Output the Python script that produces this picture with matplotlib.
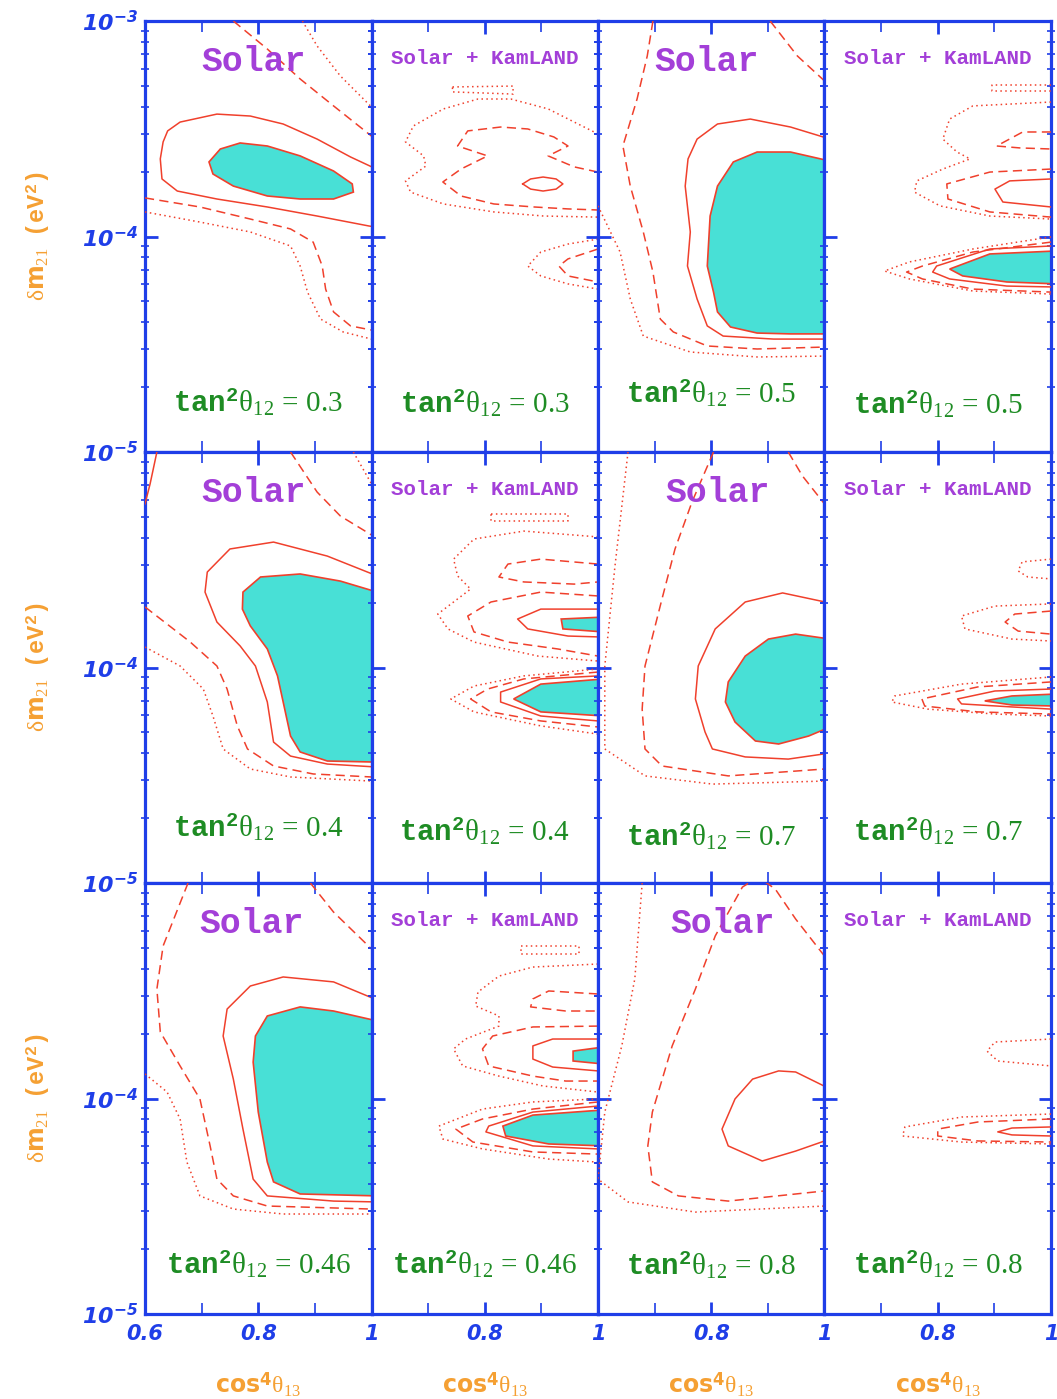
import numpy as np
import matplotlib
matplotlib.use("Agg")
import matplotlib.pyplot as plt
from matplotlib.ticker import LogLocator, NullFormatter

# fonts for the mathtext labels
plt.rcParams['mathtext.fontset'] = 'custom'
plt.rcParams['mathtext.rm'] = 'Liberation Serif'
plt.rcParams['mathtext.it'] = 'Liberation Serif:italic'
plt.rcParams['mathtext.bf'] = 'DejaVu Sans:italic:bold'
plt.rcParams['mathtext.tt'] = 'Liberation Mono:bold'
plt.rcParams['mathtext.sf'] = 'DejaVu Sans:bold'

BLUE = '#1f3ee8'
RED = '#f0402c'
TURQ = '#48e0d6'
PURPLE = '#a33fd8'
GREEN = '#1e8c24'
ORANGE = '#f5a033'

# panel text
titles = ['Solar', 'Solar + KamLAND', 'Solar', 'Solar + KamLAND']
tan2_values = [['0.3', '0.3', '0.5', '0.5'],
               ['0.4', '0.4', '0.7', '0.7'],
               ['0.46', '0.46', '0.8', '0.8']]

# contour vertices: (cos^4 theta13, log10 dm21^2 [eV^2])
solar_03 = dict(
    fill=[[(0.713, -3.654), (0.733, -3.594), (0.768, -3.566), (0.816, -3.580), (0.874, -3.626),
           (0.933, -3.696), (0.966, -3.756), (0.968, -3.794), (0.933, -3.826), (0.874, -3.826),
           (0.816, -3.812), (0.756, -3.766), (0.720, -3.710), (0.713, -3.654)]],
    solid=[[(1.016, -3.696), (0.963, -3.631), (0.904, -3.548), (0.844, -3.478), (0.786, -3.441),
            (0.727, -3.432), (0.662, -3.469), (0.640, -3.510), (0.632, -3.561), (0.627, -3.640),
            (0.630, -3.733), (0.657, -3.789), (0.727, -3.826), (0.816, -3.863), (0.904, -3.905),
            (0.995, -3.951), (1.016, -3.960)]],
    dashed=[[(0.756, -3.0), (0.816, -3.130), (0.874, -3.269), (0.933, -3.394), (1.0, -3.534)],
            [(0.6, -3.821), (0.697, -3.863), (0.786, -3.919), (0.857, -3.965), (0.897, -4.026),
             (0.913, -4.137), (0.919, -4.244), (0.933, -4.350), (0.963, -4.415), (1.0, -4.434)]],
    dotted=[[(0.878, -3.0), (0.904, -3.116), (0.945, -3.255), (1.0, -3.399)],
            [(0.6, -3.886), (0.697, -3.933), (0.786, -3.979), (0.857, -4.044), (0.874, -4.137),
             (0.887, -4.258), (0.910, -4.383), (0.950, -4.443), (1.0, -4.476)]],
)

kam_03 = dict(
    fill=[],
    solid=[[(0.867, -3.756), (0.881, -3.733), (0.903, -3.724), (0.926, -3.733), (0.938, -3.756),
            (0.926, -3.780), (0.903, -3.789), (0.881, -3.780), (0.867, -3.756)]],
    dashed=[[(1.0, -3.701), (0.958, -3.677), (0.912, -3.626), (0.947, -3.580), (0.922, -3.538),
             (0.876, -3.501), (0.828, -3.492), (0.770, -3.510), (0.752, -3.580), (0.805, -3.626),
             (0.758, -3.687), (0.726, -3.747), (0.758, -3.812), (0.816, -3.849), (0.887, -3.863),
             (0.947, -3.872), (1.0, -3.877)],
            [(1.0, -4.058), (0.947, -4.104), (0.931, -4.137), (0.947, -4.183), (1.0, -4.211)]],
    dotted=[[(0.743, -3.306), (0.850, -3.302), (0.850, -3.339), (0.743, -3.329), (0.743, -3.306)],
            [(1.0, -3.524), (0.958, -3.469), (0.912, -3.408), (0.846, -3.362), (0.788, -3.362),
             (0.727, -3.408), (0.674, -3.487), (0.660, -3.561), (0.692, -3.626), (0.696, -3.673),
             (0.660, -3.742), (0.669, -3.794), (0.727, -3.849), (0.816, -3.886), (0.904, -3.905),
             (1.0, -3.910)],
            [(1.0, -4.012), (0.947, -4.035), (0.899, -4.072), (0.876, -4.137), (0.899, -4.183),
             (0.947, -4.220), (1.0, -4.244)]],
)

solar_05 = dict(
    fill=[[(1.01, -3.650), (0.940, -3.608), (0.881, -3.608), (0.839, -3.654), (0.811, -3.766),
           (0.798, -3.905), (0.793, -4.137), (0.804, -4.258), (0.811, -4.350), (0.834, -4.420),
           (0.881, -4.448), (0.940, -4.452), (1.01, -4.452)]],
    solid=[[(1.01, -3.548), (0.940, -3.492), (0.869, -3.455), (0.811, -3.478), (0.775, -3.548),
            (0.759, -3.640), (0.754, -3.766), (0.763, -3.979), (0.758, -4.137), (0.775, -4.290),
            (0.793, -4.415), (0.821, -4.462), (0.910, -4.476), (1.01, -4.476)]],
    dashed=[[(0.697, -3.0), (0.687, -3.162), (0.669, -3.362), (0.644, -3.580), (0.657, -3.766),
             (0.680, -3.979), (0.697, -4.165), (0.710, -4.383), (0.733, -4.443), (0.793, -4.508),
             (0.881, -4.522), (1.0, -4.513)],
            [(0.904, -3.0), (0.952, -3.162), (1.0, -3.278)]],
    dotted=[[(0.6, -3.858), (0.639, -4.072), (0.657, -4.290), (0.680, -4.462), (0.763, -4.536),
             (0.881, -4.559), (1.0, -4.555)]],
)

kam_05 = dict(
    fill=[[(1.01, -4.067), (0.892, -4.081), (0.821, -4.151), (0.844, -4.183), (0.922, -4.211),
           (1.01, -4.220)]],
    solid=[[(1.0, -3.733), (0.927, -3.742), (0.901, -3.780), (0.915, -3.840), (1.0, -3.863)],
           [(1.0, -4.044), (0.892, -4.058), (0.798, -4.137), (0.791, -4.165), (0.821, -4.197),
            (0.922, -4.230), (1.0, -4.234)]],
    dashed=[[(1.0, -3.515), (0.950, -3.515), (0.904, -3.580), (0.945, -3.589), (1.0, -3.594)],
            [(1.0, -3.687), (0.892, -3.701), (0.816, -3.756), (0.818, -3.826), (0.892, -3.886),
             (1.0, -3.910)],
            [(1.0, -4.026), (0.862, -4.072), (0.773, -4.137), (0.745, -4.165), (0.773, -4.197),
             (0.862, -4.244), (1.0, -4.258)]],
    dotted=[[(1.0, -3.297), (0.896, -3.297), (0.896, -3.325), (1.0, -3.325)],
            [(1.0, -3.376), (0.862, -3.394), (0.821, -3.455), (0.809, -3.548), (0.834, -3.608),
             (0.857, -3.640), (0.809, -3.687), (0.763, -3.742), (0.759, -3.794), (0.804, -3.858),
             (0.892, -3.905), (1.0, -3.919)],
            [(1.0, -4.002), (0.862, -4.058), (0.750, -4.118), (0.706, -4.160), (0.750, -4.197),
             (0.862, -4.253), (1.0, -4.267)]],
)

solar_04 = dict(
    fill=[[(1.01, -3.650), (0.945, -3.599), (0.874, -3.566), (0.804, -3.580), (0.773, -3.650),
           (0.772, -3.729), (0.786, -3.807), (0.816, -3.914), (0.834, -4.039), (0.844, -4.160),
           (0.857, -4.318), (0.874, -4.392), (0.922, -4.434), (1.01, -4.439)]],
    solid=[[(1.01, -3.575), (0.922, -3.483), (0.827, -3.418), (0.750, -3.450), (0.710, -3.557),
            (0.706, -3.650), (0.727, -3.789), (0.768, -3.900), (0.795, -3.993), (0.816, -4.160),
            (0.827, -4.346), (0.857, -4.411), (0.922, -4.448), (1.01, -4.462)],
           [(0.6, -3.241), (0.609, -3.148), (0.621, -3.0)]],
    dashed=[[(0.6, -3.719), (0.680, -3.882), (0.727, -3.993), (0.745, -4.100), (0.763, -4.271),
             (0.781, -4.378), (0.827, -4.457), (0.897, -4.494), (1.0, -4.508)],
            [(0.857, -3.0), (0.904, -3.186), (0.945, -3.297), (1.0, -3.385)]],
    dotted=[[(0.6, -3.905), (0.662, -3.993), (0.703, -4.100), (0.720, -4.225), (0.738, -4.378),
             (0.786, -4.471), (0.857, -4.508), (1.0, -4.527)],
            [(0.968, -3.0), (1.0, -3.148)]],
)

kam_04 = dict(
    fill=[[(1.01, -3.766), (0.935, -3.775), (0.938, -3.821), (1.01, -3.835)],
          [(1.01, -4.053), (0.899, -4.077), (0.851, -4.146), (0.899, -4.206), (1.01, -4.225)]],
    solid=[[(1.0, -3.729), (0.899, -3.729), (0.858, -3.775), (0.876, -3.821), (0.947, -3.854),
            (1.0, -3.858)],
           [(1.0, -4.039), (0.899, -4.053), (0.828, -4.114), (0.828, -4.160), (0.899, -4.225),
            (1.0, -4.248)]],
    dashed=[[(1.0, -3.520), (0.899, -3.497), (0.841, -3.520), (0.825, -3.580), (0.869, -3.603),
             (0.958, -3.613), (1.0, -3.603)],
            [(1.0, -3.668), (0.899, -3.650), (0.811, -3.696), (0.770, -3.761), (0.781, -3.835),
             (0.841, -3.882), (0.929, -3.914), (1.0, -3.947)],
            [(1.0, -4.021), (0.869, -4.053), (0.805, -4.100), (0.775, -4.146), (0.811, -4.206),
             (0.899, -4.248), (1.0, -4.276)]],
    dotted=[[(0.811, -3.288), (0.947, -3.288), (0.947, -3.320), (0.811, -3.320), (0.811, -3.288)],
            [(1.0, -3.394), (0.869, -3.367), (0.781, -3.404), (0.745, -3.497), (0.752, -3.575),
             (0.775, -3.636), (0.717, -3.752), (0.735, -3.821), (0.781, -3.882), (0.894, -3.947),
             (1.0, -3.970)],
            [(1.0, -4.007), (0.869, -4.039), (0.781, -4.086), (0.740, -4.146), (0.781, -4.206),
             (0.899, -4.271), (1.0, -4.309)]],
)

solar_07 = dict(
    fill=[[(1.01, -3.868), (0.949, -3.845), (0.901, -3.868), (0.860, -3.947), (0.830, -4.067),
           (0.825, -4.160), (0.842, -4.253), (0.878, -4.341), (0.919, -4.355), (0.972, -4.318),
           (1.01, -4.276)]],
    solid=[[(1.01, -3.701), (0.926, -3.654), (0.860, -3.696), (0.807, -3.821), (0.777, -3.993),
            (0.772, -4.146), (0.789, -4.299), (0.802, -4.378), (0.860, -4.415), (0.936, -4.425),
            (1.01, -4.397)]],
    dashed=[[(0.804, -3.0), (0.766, -3.232), (0.736, -3.450), (0.713, -3.682), (0.683, -3.993),
             (0.678, -4.193), (0.683, -4.378), (0.713, -4.457), (0.830, -4.503), (1.0, -4.471)],
            [(0.936, -3.0), (0.961, -3.111), (1.0, -3.241)]],
    dotted=[[(0.653, -3.0), (0.630, -3.529), (0.612, -3.993), (0.612, -4.378), (0.683, -4.503),
             (0.802, -4.541), (1.0, -4.527)]],
)

kam_07 = dict(
    fill=[[(1.01, -4.123), (0.931, -4.132), (0.883, -4.155), (0.931, -4.174), (1.01, -4.179)]],
    solid=[[(1.0, -4.100), (0.901, -4.109), (0.835, -4.146), (0.842, -4.169), (0.931, -4.183),
            (1.0, -4.193)]],
    dashed=[[(1.0, -3.738), (0.936, -3.752), (0.919, -3.789), (0.942, -3.831), (1.0, -3.845)],
            [(1.0, -4.067), (0.871, -4.090), (0.772, -4.146), (0.777, -4.179), (0.871, -4.206),
             (1.0, -4.216)]],
    dotted=[[(1.0, -3.497), (0.949, -3.510), (0.942, -3.552), (0.959, -3.580), (1.0, -3.589)],
            [(1.0, -3.705), (0.901, -3.715), (0.842, -3.761), (0.848, -3.821), (0.931, -3.868),
             (1.0, -3.877)],
            [(1.0, -4.044), (0.842, -4.077), (0.724, -4.132), (0.719, -4.160), (0.782, -4.193),
             (0.901, -4.216), (1.0, -4.225)]],
)

solar_046 = dict(
    fill=[[(1.01, -3.640), (0.933, -3.594), (0.874, -3.575), (0.816, -3.617), (0.795, -3.710),
           (0.791, -3.831), (0.800, -4.063), (0.816, -4.295), (0.827, -4.387), (0.874, -4.443),
           (1.01, -4.452)]],
    solid=[[(1.01, -3.543), (0.933, -3.459), (0.844, -3.436), (0.786, -3.478), (0.745, -3.585),
            (0.738, -3.710), (0.756, -3.910), (0.773, -4.142), (0.791, -4.374), (0.816, -4.452),
            (0.933, -4.476), (1.01, -4.480)]],
    dashed=[[(0.676, -3.0), (0.632, -3.292), (0.621, -3.492), (0.627, -3.691), (0.662, -3.849),
             (0.697, -4.002), (0.715, -4.220), (0.727, -4.374), (0.756, -4.452), (0.816, -4.499),
             (1.0, -4.513)],
            [(0.892, -3.0), (0.933, -3.135), (1.0, -3.306)]],
    dotted=[[(0.6, -3.886), (0.639, -3.970), (0.662, -4.095), (0.674, -4.295), (0.697, -4.452),
             (0.756, -4.513), (0.844, -4.536), (1.0, -4.536)]],
)

kam_046 = dict(
    fill=[[(1.01, -3.761), (0.956, -3.780), (0.956, -3.826), (1.01, -3.840)],
          [(1.01, -4.053), (0.885, -4.077), (0.832, -4.128), (0.837, -4.174), (0.913, -4.211),
           (1.01, -4.220)]],
    solid=[[(1.0, -3.724), (0.920, -3.724), (0.885, -3.756), (0.885, -3.817), (0.920, -3.854),
            (1.0, -3.872)],
           [(1.0, -4.035), (0.885, -4.063), (0.807, -4.128), (0.802, -4.155), (0.885, -4.220),
            (1.0, -4.234)]],
    dashed=[[(1.0, -3.515), (0.913, -3.501), (0.885, -3.538), (0.881, -3.575), (0.943, -3.594),
             (1.0, -3.594)],
            [(1.0, -3.664), (0.885, -3.668), (0.814, -3.710), (0.796, -3.770), (0.807, -3.849),
             (0.885, -3.896), (0.943, -3.919), (1.0, -3.919)],
            [(1.0, -4.016), (0.885, -4.049), (0.796, -4.095), (0.749, -4.142), (0.779, -4.202),
             (0.885, -4.248), (1.0, -4.258)]],
    dotted=[[(0.864, -3.292), (0.966, -3.292), (0.966, -3.329), (0.864, -3.329), (0.864, -3.292)],
            [(1.0, -3.376), (0.885, -3.390), (0.825, -3.432), (0.788, -3.506), (0.784, -3.571),
             (0.825, -3.617), (0.825, -3.664), (0.766, -3.724), (0.745, -3.770), (0.761, -3.849),
             (0.825, -3.896), (0.903, -3.942), (1.0, -3.970)],
            [(1.0, -4.002), (0.885, -4.016), (0.796, -4.049), (0.719, -4.128), (0.726, -4.188),
             (0.796, -4.234), (0.913, -4.281), (1.0, -4.295)]],
)

solar_08 = dict(
    fill=[],
    solid=[[(1.01, -3.956), (0.949, -3.877), (0.919, -3.872), (0.873, -3.910), (0.842, -4.002),
            (0.819, -4.142), (0.830, -4.220), (0.890, -4.290), (0.949, -4.244), (1.01, -4.188)]],
    dashed=[[(1.0, -3.339), (0.949, -3.167), (0.913, -3.028), (0.883, -2.972), (0.855, -3.019),
             (0.807, -3.246), (0.772, -3.492), (0.731, -3.756), (0.696, -4.063), (0.688, -4.220),
             (0.696, -4.387), (0.742, -4.452), (0.830, -4.476), (1.0, -4.429)]],
    dotted=[[(0.678, -3.0), (0.665, -3.445), (0.642, -3.756), (0.612, -4.063), (0.600, -4.374),
             (0.653, -4.480), (0.772, -4.527), (1.0, -4.499)]],
)

kam_08 = dict(
    fill=[],
    solid=[[(1.0, -4.132), (0.931, -4.137), (0.906, -4.155), (0.931, -4.169), (1.0, -4.174)]],
    dashed=[[(1.0, -4.095), (0.871, -4.109), (0.800, -4.142), (0.800, -4.174), (0.871, -4.197),
             (1.0, -4.202)]],
    dotted=[[(1.0, -3.724), (0.901, -3.738), (0.887, -3.780), (0.906, -3.826), (1.0, -3.849)],
            [(1.0, -4.072), (0.842, -4.086), (0.742, -4.132), (0.738, -4.174), (0.842, -4.202),
             (1.0, -4.211)]],
)

panels = [[solar_03, kam_03, solar_05, kam_05],
          [solar_04, kam_04, solar_07, kam_07],
          [solar_046, kam_046, solar_08, kam_08]]

# small horizontal nudges of the "Solar" titles (axes fraction)
title_x = [[0.48, 0.5, 0.48, 0.5],
           [0.48, 0.5, 0.53, 0.5],
           [0.47, 0.5, 0.55, 0.5]]
tan_y = [[0.115, 0.113, 0.137, 0.112],
         [0.130, 0.120, 0.110, 0.120],
         [0.115, 0.115, 0.113, 0.117]]

line_styles = {'solid': '-', 'dashed': (0, (6, 3.5)), 'dotted': (0, (1, 2.2))}

W, H = 1057, 1399
fig = plt.figure(figsize=(W / 100, H / 100), dpi=100)

left, bottom = 145 / W, 85 / H
pw, ph = 226.5 / W, 431 / H

for r in range(3):
    for c in range(4):
        ax = fig.add_axes([left + c * pw, bottom + (2 - r) * ph, pw, ph])
        p = panels[r][c]

        for curve in p['fill']:
            x, y = np.array(curve).T
            ax.fill(x, 10 ** y, facecolor=TURQ, edgecolor=RED, lw=1.2, zorder=2)
        for key in ['solid', 'dashed', 'dotted']:
            for curve in p[key]:
                x, y = np.array(curve).T
                ax.plot(x, 10 ** y, color=RED, lw=1.1, ls=line_styles[key], zorder=3,
                        solid_joinstyle='round')

        ax.set_xlim(0.6, 1.0)
        ax.set_yscale('log')
        ax.set_ylim(1e-5, 1e-3)

        for s in ax.spines.values():
            s.set_color(BLUE)
            s.set_linewidth(2.3)

        # x ticks
        xlabels = ['0.6', '0.8', '1']
        if c > 0:
            xlabels[0] = ''
        if r < 2:
            xlabels = ['', '', '']
        ax.set_xticks([0.6, 0.8, 1.0], labels=xlabels, fontsize=15, fontweight='bold',
                      fontstyle='italic', color=BLUE)
        ax.set_xticks([0.7, 0.9], minor=True)

        # y ticks
        ylabels = [r'$\mathbf{10^{-5}}$', r'$\mathbf{10^{-4}}$', r'$\mathbf{10^{-3}}$']
        if r > 0:
            ylabels[2] = ''
        if c > 0:
            ylabels = ['', '', '']
        ax.set_yticks([1e-5, 1e-4, 1e-3], labels=ylabels, fontsize=16, color=BLUE)
        ax.yaxis.set_minor_locator(LogLocator(base=10, subs=np.arange(2, 10)))
        ax.yaxis.set_minor_formatter(NullFormatter())

        ax.tick_params(axis='both', which='both', direction='in', top=True, right=True,
                       color=BLUE)
        ax.tick_params(axis='x', which='major', length=9, width=2, pad=7)
        ax.tick_params(axis='x', which='minor', length=8, width=1.2)
        ax.tick_params(axis='y', which='major', length=9, width=2, pad=5)
        ax.tick_params(axis='y', which='minor', direction='inout', length=6, width=1.2)

        if c % 2 == 0:
            ax.text(title_x[r][c], 0.905, titles[c], transform=ax.transAxes, ha='center',
                    va='center', fontsize=25, fontweight='bold', family='Liberation Mono',
                    color=PURPLE)
        else:
            ax.text(0.5, 0.912, titles[c], transform=ax.transAxes, ha='center',
                    va='center', fontsize=15, fontweight='bold', family='Liberation Mono',
                    color=PURPLE)

        ax.text(0.5, tan_y[r][c],
                r'$\mathtt{tan}^{\mathtt{2}}\mathrm{\theta}_{\mathrm{12}}\,=\,\mathrm{'
                + tan2_values[r][c] + '}$',
                transform=ax.transAxes, ha='center', va='center', fontsize=21, color=GREEN)

# axis titles
for c in range(4):
    fig.text(left + (c + 0.5) * pw, 14 / H,
             r'$\mathsf{cos}^{\mathsf{4}}\mathrm{\theta}_{\mathrm{13}}$',
             ha='center', va='center', fontsize=17, color=ORANGE)
for r in range(3):
    fig.text(38 / W, bottom + (2.5 - r) * ph,
             r'$\mathrm{\delta}\mathsf{m}_{\mathrm{21}}\ \ \mathtt{(eV}^{\mathtt{2}}\mathtt{)}$',
             ha='center', va='center', rotation=90, fontsize=17, color=ORANGE)

fig.savefig('out.png', dpi=100)
